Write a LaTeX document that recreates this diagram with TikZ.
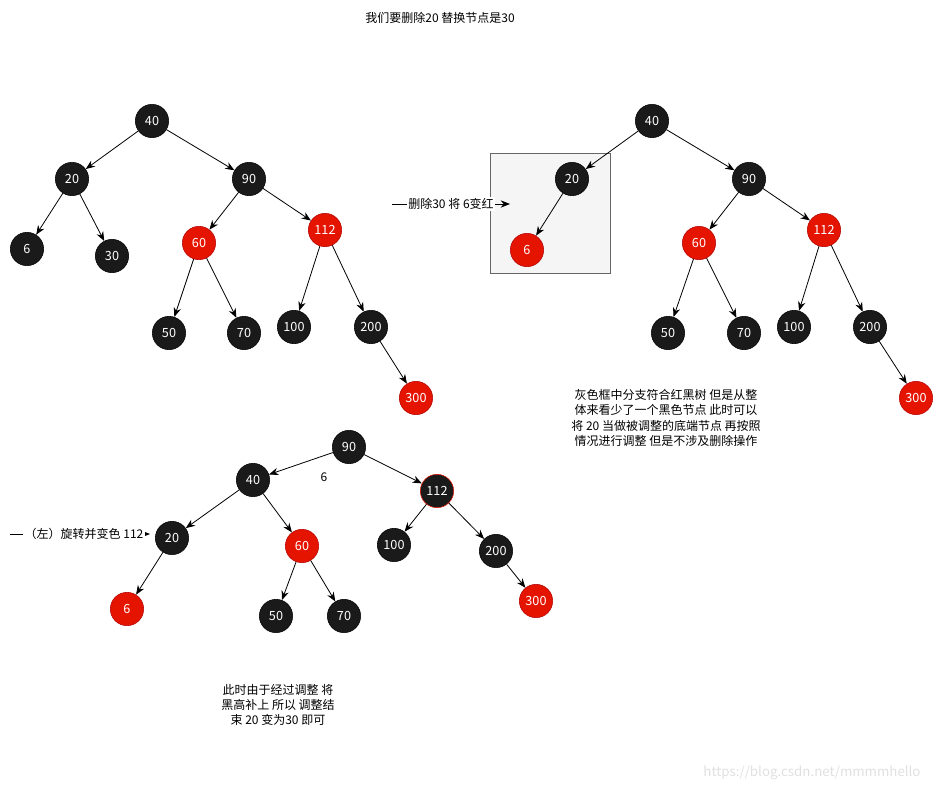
\documentclass[tikz,border=0pt]{standalone}
\usepackage{fontspec}
\setmainfont{Noto Sans CJK SC}
\usetikzlibrary{arrows.meta}

\definecolor{nodeblack}{HTML}{1A1A1A}
\definecolor{nodered}{HTML}{E51400}
\definecolor{rededge}{HTML}{B20000}
\definecolor{boxgray}{HTML}{F5F5F5}
\definecolor{boxedge}{HTML}{666666}

\begin{document}
\begin{tikzpicture}[x=0.75pt, y=-0.75pt,
    blk/.style={circle, fill=nodeblack, draw=black, text=white, minimum size=25pt, inner sep=0pt, font=\fontsize{9.5}{10}\selectfont},
    rd/.style={blk, fill=nodered, draw=rededge},
    edge/.style={-{Stealth[length=7pt,width=5.5pt]}, line width=0.6pt},
    txt/.style={font=\fontsize{9}{11.5}\selectfont, align=center}]

    \useasboundingbox (0,0) rectangle (938,791);

    % --- Cím ---
    \node[txt] (title) at (440,18) {我们要删除20 替换节点是30};

    % --- Első fa ---
    \node[blk] (a40)  at (152,121) {40};
    \node[blk] (a20)  at (72,179)  {20};
    \node[blk] (a90)  at (249,179) {90};
    \node[blk] (a6)   at (27,249)  {6};
    \node[blk] (a30)  at (112,256) {30};
    \node[rd]  (a60)  at (199,243) {60};
    \node[rd]  (a112) at (325,230) {112};
    \node[blk] (a50)  at (169,333) {50};
    \node[blk] (a70)  at (244,333) {70};
    \node[blk] (a100) at (294,327) {100};
    \node[blk] (a200) at (371,327) {200};
    \node[rd]  (a300) at (416,398) {300};

    \foreach \u/\v in {40/20, 40/90, 20/6, 20/30, 90/60, 90/112, 60/50, 60/70, 112/100, 112/200, 200/300}
        \draw[edge] (a\u) -- (a\v);

    % --- Szürke keret ---
    \draw[boxedge, fill=boxgray] (490,153) rectangle (610,273);

    % --- Második fa ---
    \node[blk] (b40)  at (652,121) {40};
    \node[blk] (b20)  at (572,179) {20};
    \node[blk] (b90)  at (749,179) {90};
    \node[rd]  (b6)   at (527,250) {6};
    \node[rd]  (b60)  at (699,243) {60};
    \node[rd]  (b112) at (824,230) {112};
    \node[blk] (b50)  at (668,333) {50};
    \node[blk] (b70)  at (744,333) {70};
    \node[blk] (b100) at (794,327) {100};
    \node[blk] (b200) at (870,327) {200};
    \node[rd]  (b300) at (916,398) {300};

    \foreach \u/\v in {40/20, 40/90, 20/6, 90/60, 90/112, 60/50, 60/70, 112/100, 112/200, 200/300}
        \draw[edge] (b\u) -- (b\v);

    % --- Harmadik fa ---
    \node[blk] (c90)  at (349,447) {90};
    \node[blk] (c40)  at (253,480) {40};
    \node[blk, draw=nodered] (c112) at (437,491) {112};
    \node[blk] (c20)  at (172,538) {20};
    \node[rd]  (c60)  at (302,546) {60};
    \node[blk] (c100) at (394,545) {100};
    \node[blk] (c200) at (496,551) {200};
    \node[rd]  (c6)   at (127,609) {6};
    \node[blk] (c50)  at (276,616) {50};
    \node[blk] (c70)  at (344,616) {70};
    \node[rd]  (c300) at (536,601) {300};
    \node[txt] (c6lbl) at (324,477) {6};

    \foreach \u/\v in {90/40, 90/112, 40/20, 40/60, 20/6, 60/50, 60/70, 112/100, 112/200, 200/300}
        \draw[edge] (c\u) -- (c\v);

    % --- Nyilak feliratokkal ---
    \coordinate (s1) at (392,204);
    \coordinate (e1) at (510,204);
    \draw[edge] (s1) -- (e1) node[midway, fill=white, inner sep=1pt, txt] {删除30 将 6变红};

    \coordinate (s2) at (10,534);
    \coordinate (e2) at (150,534);
    \draw[edge] (s2) -- (e2) node[midway, fill=white, inner sep=1pt, txt, xshift=3pt] {（左）旋转并变色 112};

    % --- Magyarázatok ---
    \node[txt] (note1) at (666,418) {灰色框中分支符合红黑树 但是从整\\体来看少了一个黑色节点 此时可以\\将 20 当做被调整的底端节点 再按照\\情况进行调整 但是不涉及删除操作};
    \node[txt] (note2) at (278,705) {此时由于经过调整 将\\黑高补上 所以 调整结\\束 20 变为30 即可};

    \node[font=\fontsize{10}{12}\selectfont, text=black!12] (wm) at (812,773) {https://blog.csdn.net/mmmmhello};

\end{tikzpicture}
\end{document}
